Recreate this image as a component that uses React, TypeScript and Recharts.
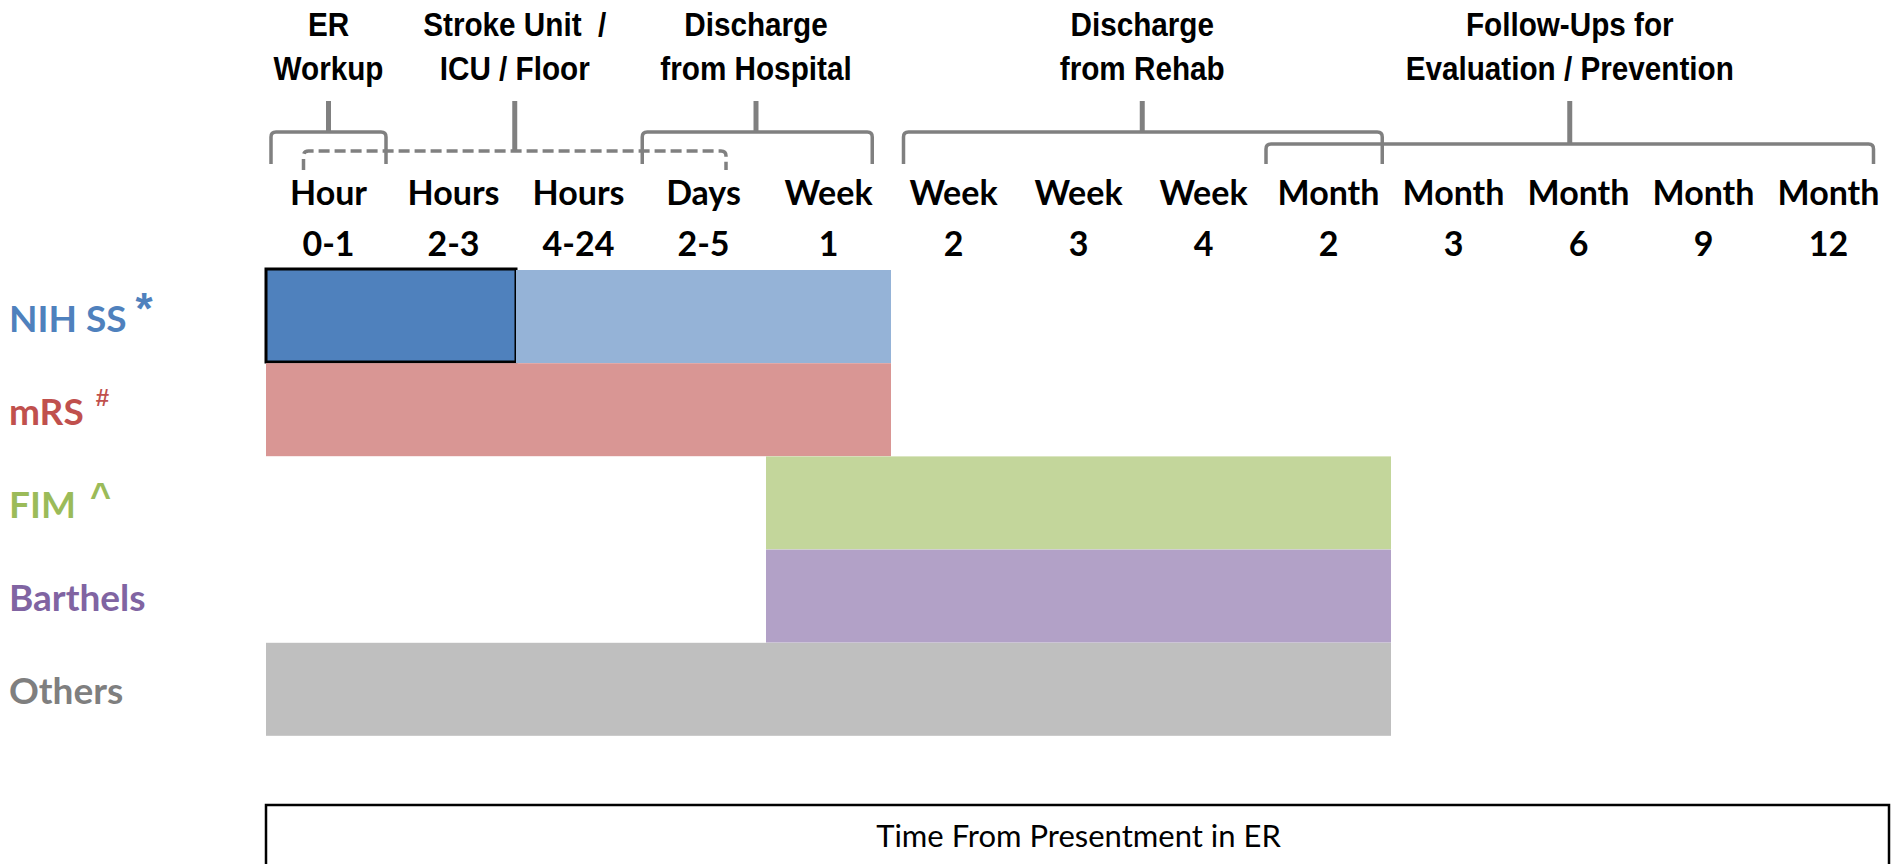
import React from 'react';
import { BarChart, Bar, XAxis, YAxis, Cell } from 'recharts';

// ---------- data ----------
const rows = ['NIH SS', 'mRS', 'FIM', 'Barthels', 'Others'];
const rowMarks = ['*', '#', '^', '', ''];
const startCol = [0, 0, 4, 4, 0];
const firstSpan = [2, 5, 5, 5, 9];
const secondSpan = [3, 0, 0, 0, 0];
const highlightedRows = ['NIH SS'];

const colTicks = [0.5, 1.5, 2.5, 3.5, 4.5, 5.5, 6.5, 7.5, 8.5, 9.5, 10.5, 11.5, 12.5];
const colTop = ['Hour', 'Hours', 'Hours', 'Days', 'Week', 'Week', 'Week', 'Week', 'Month', 'Month', 'Month', 'Month', 'Month'];
const colBottom = ['0-1', '2-3', '4-24', '2-5', '1', '2', '3', '4', '2', '3', '6', '9', '12'];

const groupLine1 = ['ER', 'Stroke Unit\u00a0 /', 'Discharge', 'Discharge', 'Follow-Ups for'];
const groupLine2 = ['Workup', 'ICU / Floor', 'from Hospital', 'from Rehab', 'Evaluation / Prevention'];
const groupStem = [0.5, 1.99, 3.92, 7.01, 10.43];
const groupFrom = [0.04, 0.3, 3.01, 5.1, 8.0];
const groupTo = [0.96, 3.68, 4.85, 8.93, 12.86];
const groupDashed = [false, true, false, false, false];
const groupLevel = [0, 2, 0, 0, 1];

const axisTitle = 'Time From Presentment in ER';

// ---------- styles ----------
const labelColors = ['#4F81BD', '#C0504D', '#9BBB59', '#8064A2', '#7F7F7F'];
const firstColors = ['#4F81BD', '#D99694', '#C3D69B', '#B2A1C7', '#BFBFBF'];
const secondColor = '#95B3D7';
const bracketColor = '#808080';
const levelOffset = [138, 126, 119];
const markStyle: Record<string, { size: number; dx: number; dy: number }> = {
  '*': { size: 44, dx: 9, dy: -8 },
  '#': { size: 24, dx: 12, dy: -19 },
  '^': { size: 36, dx: 14, dy: -10 },
};
const SANS = "'Liberation Sans', Arial, sans-serif";
const ROUND = "Lato, 'Liberation Sans', sans-serif";
const TOP_AXIS_HEIGHT = 270;

const data = rows.map((name, i) => ({
  name,
  gap: startCol[i],
  first: firstSpan[i],
  second: secondSpan[i],
  outlined: highlightedRows.includes(name),
}));

function HeaderText({ x, y, children }: { x: number; y: number; children: React.ReactNode }) {
  return (
    <text
      x={0}
      y={0}
      transform={`translate(${x} ${y}) scale(0.9 1)`}
      textAnchor="middle"
      fontFamily={SANS}
      fontWeight={700}
      fontSize={33}
      fill="#000"
    >
      {children}
    </text>
  );
}

function GroupLayer({ left, unit, y }: { left: number; unit: number; y: number }) {
  return (
    <g>
      {groupStem.map((stem, i) => {
        const xc = left + stem * unit;
        const xs = left + groupFrom[i] * unit;
        const xe = left + groupTo[i] * unit;
        const yl = y - levelOffset[groupLevel[i]];
        const yb = groupDashed[i] ? y - 100 : y - 106;
        const r = 5;
        const d = `M ${xs} ${yb} L ${xs} ${yl + r} Q ${xs} ${yl} ${xs + r} ${yl} L ${xe - r} ${yl} Q ${xe} ${yl} ${xe} ${yl + r} L ${xe} ${yb}`;
        return (
          <g key={i}>
            <HeaderText x={xc} y={y - 234}>
              {groupLine1[i]}
            </HeaderText>
            <HeaderText x={xc} y={y - 190}>
              {groupLine2[i]}
            </HeaderText>
            <path
              d={d}
              fill="none"
              stroke={bracketColor}
              strokeWidth={3.5}
              strokeDasharray={groupDashed[i] ? '11 5' : undefined}
            />
            <line x1={xc} x2={xc} y1={y - 169} y2={yl} stroke={bracketColor} strokeWidth={5} />
          </g>
        );
      })}
    </g>
  );
}

function ColTick(props: any) {
  const { x, y, index, width } = props;
  const unit = (typeof width === 'number' && width > 0 ? width : 1625) / 13;
  const left = x - colTicks[index] * unit;
  return (
    <g>
      {index === 0 ? <GroupLayer left={left} unit={unit} y={y} /> : null}
      <text x={x} y={y - 65} textAnchor="middle" fontFamily={ROUND} fontWeight={700} fontSize={34} fill="#000">
        {colTop[index]}
      </text>
      <text x={x} y={y - 14} textAnchor="middle" fontFamily={ROUND} fontWeight={700} fontSize={34} fill="#000">
        {colBottom[index]}
      </text>
    </g>
  );
}

function RowTick(props: any) {
  const { y, index } = props;
  const mark = rowMarks[index];
  const ms = markStyle[mark];
  return (
    <text x={9} y={y + 15} fontFamily={ROUND} fontWeight={700} fontSize={37} fill={labelColors[index]}>
      {rows[index]}
      {ms ? (
        <tspan dx={ms.dx} dy={ms.dy} fontSize={ms.size} fontFamily={SANS}>
          {mark}
        </tspan>
      ) : null}
    </text>
  );
}

function TitleBox(props: any) {
  const vb = props.viewBox || props;
  const { x, y, width } = vb;
  return (
    <g>
      <rect x={x} y={y + 69} width={width - 2} height={120} fill="none" stroke="#000" strokeWidth={2.5} />
      <text x={x + width / 2} y={y + 111} textAnchor="middle" fontFamily={ROUND} fontSize={31} fill="#000">
        {axisTitle}
      </text>
    </g>
  );
}

function Segment(props: any) {
  const { x, y, width, height, fill, payload, outline } = props;
  if (!width || width <= 0) return null;
  const outlined = outline && payload && payload.outlined;
  return (
    <g>
      <rect x={x} y={y} width={width} height={height} fill={fill} />
      {outlined ? (
        <rect x={x} y={y - 1} width={width} height={height} fill="none" stroke="#000" strokeWidth={3} />
      ) : null}
    </g>
  );
}

export default function App() {
  return (
    <div style={{ position: 'absolute', left: 0, top: 0, width: 1895, height: 864, background: '#fff' }}>
      <BarChart
        width={1895}
        height={864}
        data={data}
        layout="vertical"
        margin={{ top: 0, right: 4, bottom: 0, left: 0 }}
        barCategoryGap={0}
        barGap={0}
      >
        <XAxis
          xAxisId="cols"
          type="number"
          orientation="top"
          domain={[0, 13]}
          ticks={colTicks}
          interval={0}
          height={TOP_AXIS_HEIGHT}
          tickSize={0}
          tickMargin={0}
          axisLine={false}
          tickLine={false}
          tick={<ColTick />}
        />
        <XAxis
          xAxisId="title"
          type="number"
          orientation="bottom"
          domain={[0, 13]}
          height={128}
          tick={false}
          axisLine={false}
          tickLine={false}
          label={<TitleBox />}
        />
        <YAxis
          type="category"
          dataKey="name"
          width={266}
          axisLine={false}
          tickLine={false}
          interval={0}
          tick={<RowTick />}
        />
        <Bar xAxisId="cols" dataKey="gap" stackId="s" fill="transparent" isAnimationActive={false} />
        <Bar xAxisId="cols" dataKey="first" stackId="s" isAnimationActive={false} shape={<Segment outline />}>
          {data.map((d, i) => (
            <Cell key={d.name} fill={firstColors[i]} />
          ))}
        </Bar>
        <Bar xAxisId="cols" dataKey="second" stackId="s" fill={secondColor} isAnimationActive={false} shape={<Segment />} />
      </BarChart>
    </div>
  );
}
